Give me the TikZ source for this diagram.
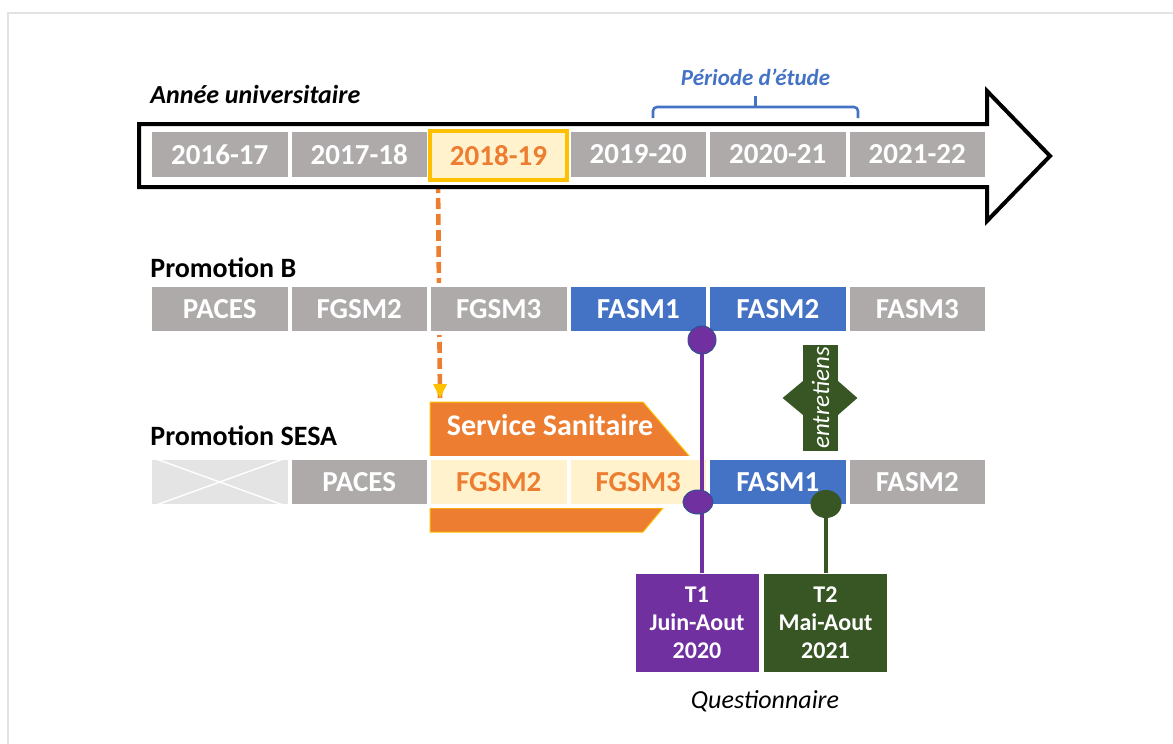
\documentclass[tikz,border=0pt]{standalone}
\usepackage{fontspec}
\setmainfont{Carlito}
\usetikzlibrary{shapes.geometric}
\pgfdeclarelayer{background}
\pgfdeclarelayer{front}
\pgfsetlayers{background,main,front}
\definecolor{cellgray}{HTML}{AEAAAA}
\definecolor{crossgray}{HTML}{E4E4E4}
\definecolor{fasblue}{HTML}{4472C4}
\definecolor{ssorange}{HTML}{ED7D31}
\definecolor{sscream}{HTML}{FFF2CC}
\definecolor{gold}{HTML}{FFC000}
\definecolor{tpurple}{HTML}{7030A0}
\definecolor{tgreen}{HTML}{375623}
\definecolor{rimblue}{HTML}{2F528F}
\definecolor{framegray}{HTML}{E3E3E3}

\begin{document}
\begin{tikzpicture}[x=0.5pt,y=0.5pt]
\tikzstyle{every node}+=[inner sep=0pt]
\tikzstyle{cell}=[rectangle, fill=cellgray, draw=white, line width=2pt, minimum width=69.75pt, minimum height=24pt, text=white, font=\fontsize{14.5}{17}\selectfont\bfseries]
\tikzstyle{sscell}=[cell, fill=sscream, text=ssorange]
\tikzstyle{fascell}=[cell, fill=fasblue]
\tikzstyle{rowlabel}=[anchor=base west, font=\fontsize{14}{16}\selectfont\bfseries]
\tikzstyle{tbox}=[rectangle, draw=white, line width=0.5pt, text=white, align=center, minimum width=62pt, minimum height=49.5pt, font=\fontsize{12}{14}\selectfont\bfseries]
\tikzstyle{dot}=[ellipse, line width=0.5pt]
\useasboundingbox (0,0) rectangle (1173,-744);
\draw [framegray, line width=1pt] (8,-744) -- (8,-13) -- (1173,-13);
\filldraw [fill=white, draw=black, line width=2pt] (139,-124) -- (987,-124) -- (987,-91) -- (1050,-156) -- (987,-221) -- (987,-187) -- (139,-187) -- cycle;
\node [cell, minimum height=24.5pt] (y1) at (219.75,-154.5) {2016-17};
\node [cell, minimum height=24.5pt] (y2) at (359.25,-154.5) {2017-18};
\node [cell, minimum height=24.5pt] (y4) at (638.25,-154.5) {2019-20};
\node [cell, minimum height=24.5pt] (y5) at (777.75,-154.5) {2020-21};
\node [cell, minimum height=24.5pt] (y6) at (917.25,-154.5) {2021-22};
\node [cell, fill=sscream, draw=gold, text=ssorange, minimum width=68.5pt, minimum height=24.5pt] (y3) at (498.5,-155.5) {2018-19};
\node [anchor=base west, font=\fontsize{13}{15}\selectfont\bfseries\itshape] (annee) at (150,-103) {Année universitaire};
\node [anchor=base, text=fasblue, font=\fontsize{11.5}{13}\selectfont\bfseries\itshape] (etude) at (755.5,-85) {Période d’étude};
\draw [fasblue, line width=1.3pt, rounded corners=2pt] (653,-118) -- (653,-107) -- (858,-107) -- (858,-118);
\draw [fasblue, line width=1.3pt] (755.5,-107) -- (755.5,-96);
\node [rowlabel] (promob) at (150,-277) {Promotion B};
\node [cell] (b1) at (219.75,-309) {PACES};
\node [cell] (b2) at (359.25,-309) {FGSM2};
\node [cell] (b3) at (498.75,-309) {FGSM3};
\node [fascell] (b4) at (638.25,-309) {FASM1};
\node [fascell] (b5) at (777.75,-309) {FASM2};
\node [cell] (b6) at (917.25,-309) {FASM3};
\coordinate (ssin) at (440,-398);
\begin{pgfonlayer}{background}
\draw [ssorange, line width=2.3pt, dash pattern=on 5.5pt off 2.5pt] ([xshift=5pt]y3.south west) -- (ssin);
\end{pgfonlayer}
\fill [gold] (ssin) -- ++(-7,14) -- ++(14,0) -- cycle;
\filldraw [fill=ssorange, draw=gold, line width=0.5pt] (430,-402) -- (643,-402) -- (690,-457) -- (430,-457) -- cycle;
\filldraw [fill=ssorange, draw=gold, line width=0.5pt] (430,-508) -- (663,-508) -- (643,-532) -- (430,-532) -- cycle;
\node [anchor=base, text=white, font=\fontsize{15}{17}\selectfont\bfseries] (ss) at (550,-435) {Service Sanitaire};
\node [rowlabel] (promosesa) at (150,-445) {Promotion SESA};
\node [cell, fill=crossgray] (s0) at (219.75,-482) {};
\draw [white, line width=0.7pt] (s0.north west) -- (s0.south east);
\draw [white, line width=0.7pt] (s0.south west) -- (s0.north east);
\node [cell] (s1) at (359.25,-482) {PACES};
\node [sscell] (s2) at (498.75,-482) {FGSM2};
\node [sscell] (s3) at (638.25,-482) {FGSM3};
\node [fascell] (s4) at (777.75,-482) {FASM1};
\node [cell] (s5) at (917.25,-482) {FASM2};
\node [fill=tgreen, rotate=90, minimum width=53pt, minimum height=17.5pt, text=white, font=\fontsize{12.5}{14}\selectfont\itshape] (ent) at (820.5,-398) {entretiens};
\fill [tgreen] (ent.north) ++(1,17.5) -- ++(-21,-17.5) -- ++(21,-17.5) -- cycle;
\fill [tgreen] (ent.south) ++(-1,17.5) -- ++(20,-17.5) -- ++(-20,-17.5) -- cycle;
\node [tbox, fill=tpurple] (t1) at (697,-622.5) {T1\\Juin-Aout\\2020};
\node [tbox, fill=tgreen] (t2) at (825.5,-622.5) {T2\\Mai-Aout\\2021};
\node [anchor=base, font=\fontsize{13}{15}\selectfont\itshape] (quest) at (765,-708) {Questionnaire};
\begin{pgfonlayer}{front}
\node [dot, fill=tpurple, draw=rimblue, minimum width=14pt, minimum height=14pt] (p1) at (702,-340) {};
\node [dot, fill=tpurple, draw=rimblue, minimum width=15pt, minimum height=12pt] (p2) at (698,-502) {};
\node [dot, fill=tgreen, draw=tgreen, minimum width=15pt, minimum height=13.5pt] (g1) at (826,-504) {};
\end{pgfonlayer}
\draw [tpurple, line width=2.2pt] (p1.center) -- (p1.center |- t1.north);
\draw [tgreen, line width=2.2pt] (g1.center) -- (g1.center |- t2.north);
\end{tikzpicture}
\end{document}
